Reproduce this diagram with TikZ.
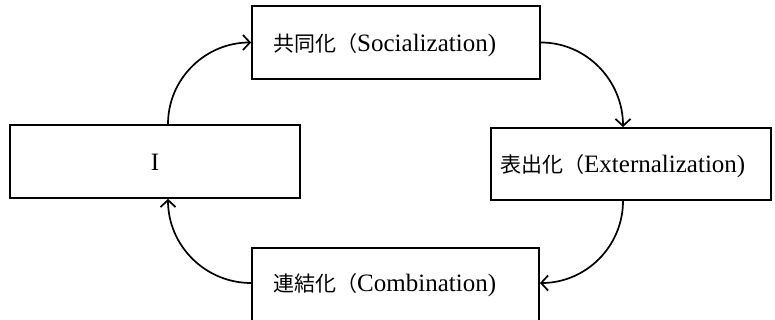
\documentclass[tikz,border=0pt]{standalone}
\usepackage{fontspec}
\usepackage{tikz}
\usetikzlibrary{arrows.meta}
\usetikzlibrary{positioning}
\setmainfont{Liberation Serif}
\newfontfamily\jp[Scale=0.84]{Noto Sans CJK JP}
\tikzset{box/.style = {draw, line width=1.8pt, inner sep=0pt}}
\tikzset{lbl/.style = {anchor=west, inner sep=0pt, font=\fontsize{25}{29}\selectfont}}
\tikzset{flow/.style = {line width=1.7pt, -{Straight Barb[length=7pt, width=15pt, line width=1.7pt]}}}

\begin{document}
\begin{tikzpicture}[x=1pt, y=-1pt]
    \useasboundingbox (0, 0) rectangle (775, 320);
    \clip (0, 0) rectangle (775, 320);
    \node [box, minimum width=288, minimum height=73] (soc) at (396, 42.5) {};
    \node [box, minimum width=290, minimum height=73] (I) at (155, 161.5) {};
    \node [box, minimum width=280, minimum height=72] (ext) at (631, 164) {};
    \node [box, minimum width=287, minimum height=100] (comb) at (395.5, 298) {};
    \node [lbl] (soct) at (273, 45) {{\jp 共同化（}Socialization)};
    \node [lbl, anchor=center] (It) at (155, 162) {I};
    \node [lbl] (extt) at (500, 166) {{\jp 表出化（}Externalization)};
    \node [lbl] (combt) at (273, 285) {{\jp 連結化（}Combination)};
    \draw [flow] ([xshift=13pt]I.north) to [out=90, in=180] ([yshift=0pt]soc.west);
    \draw [flow] (soc.east) to [out=0, in=90] ([xshift=-8pt]ext.north);
    \draw [flow] ([xshift=-8pt]ext.south) to [out=-90, in=0] ([yshift=15pt]comb.east);
    \draw [flow] ([yshift=15pt]comb.west) to [out=180, in=-90] ([xshift=13pt]I.south);
\end{tikzpicture}
\end{document}
